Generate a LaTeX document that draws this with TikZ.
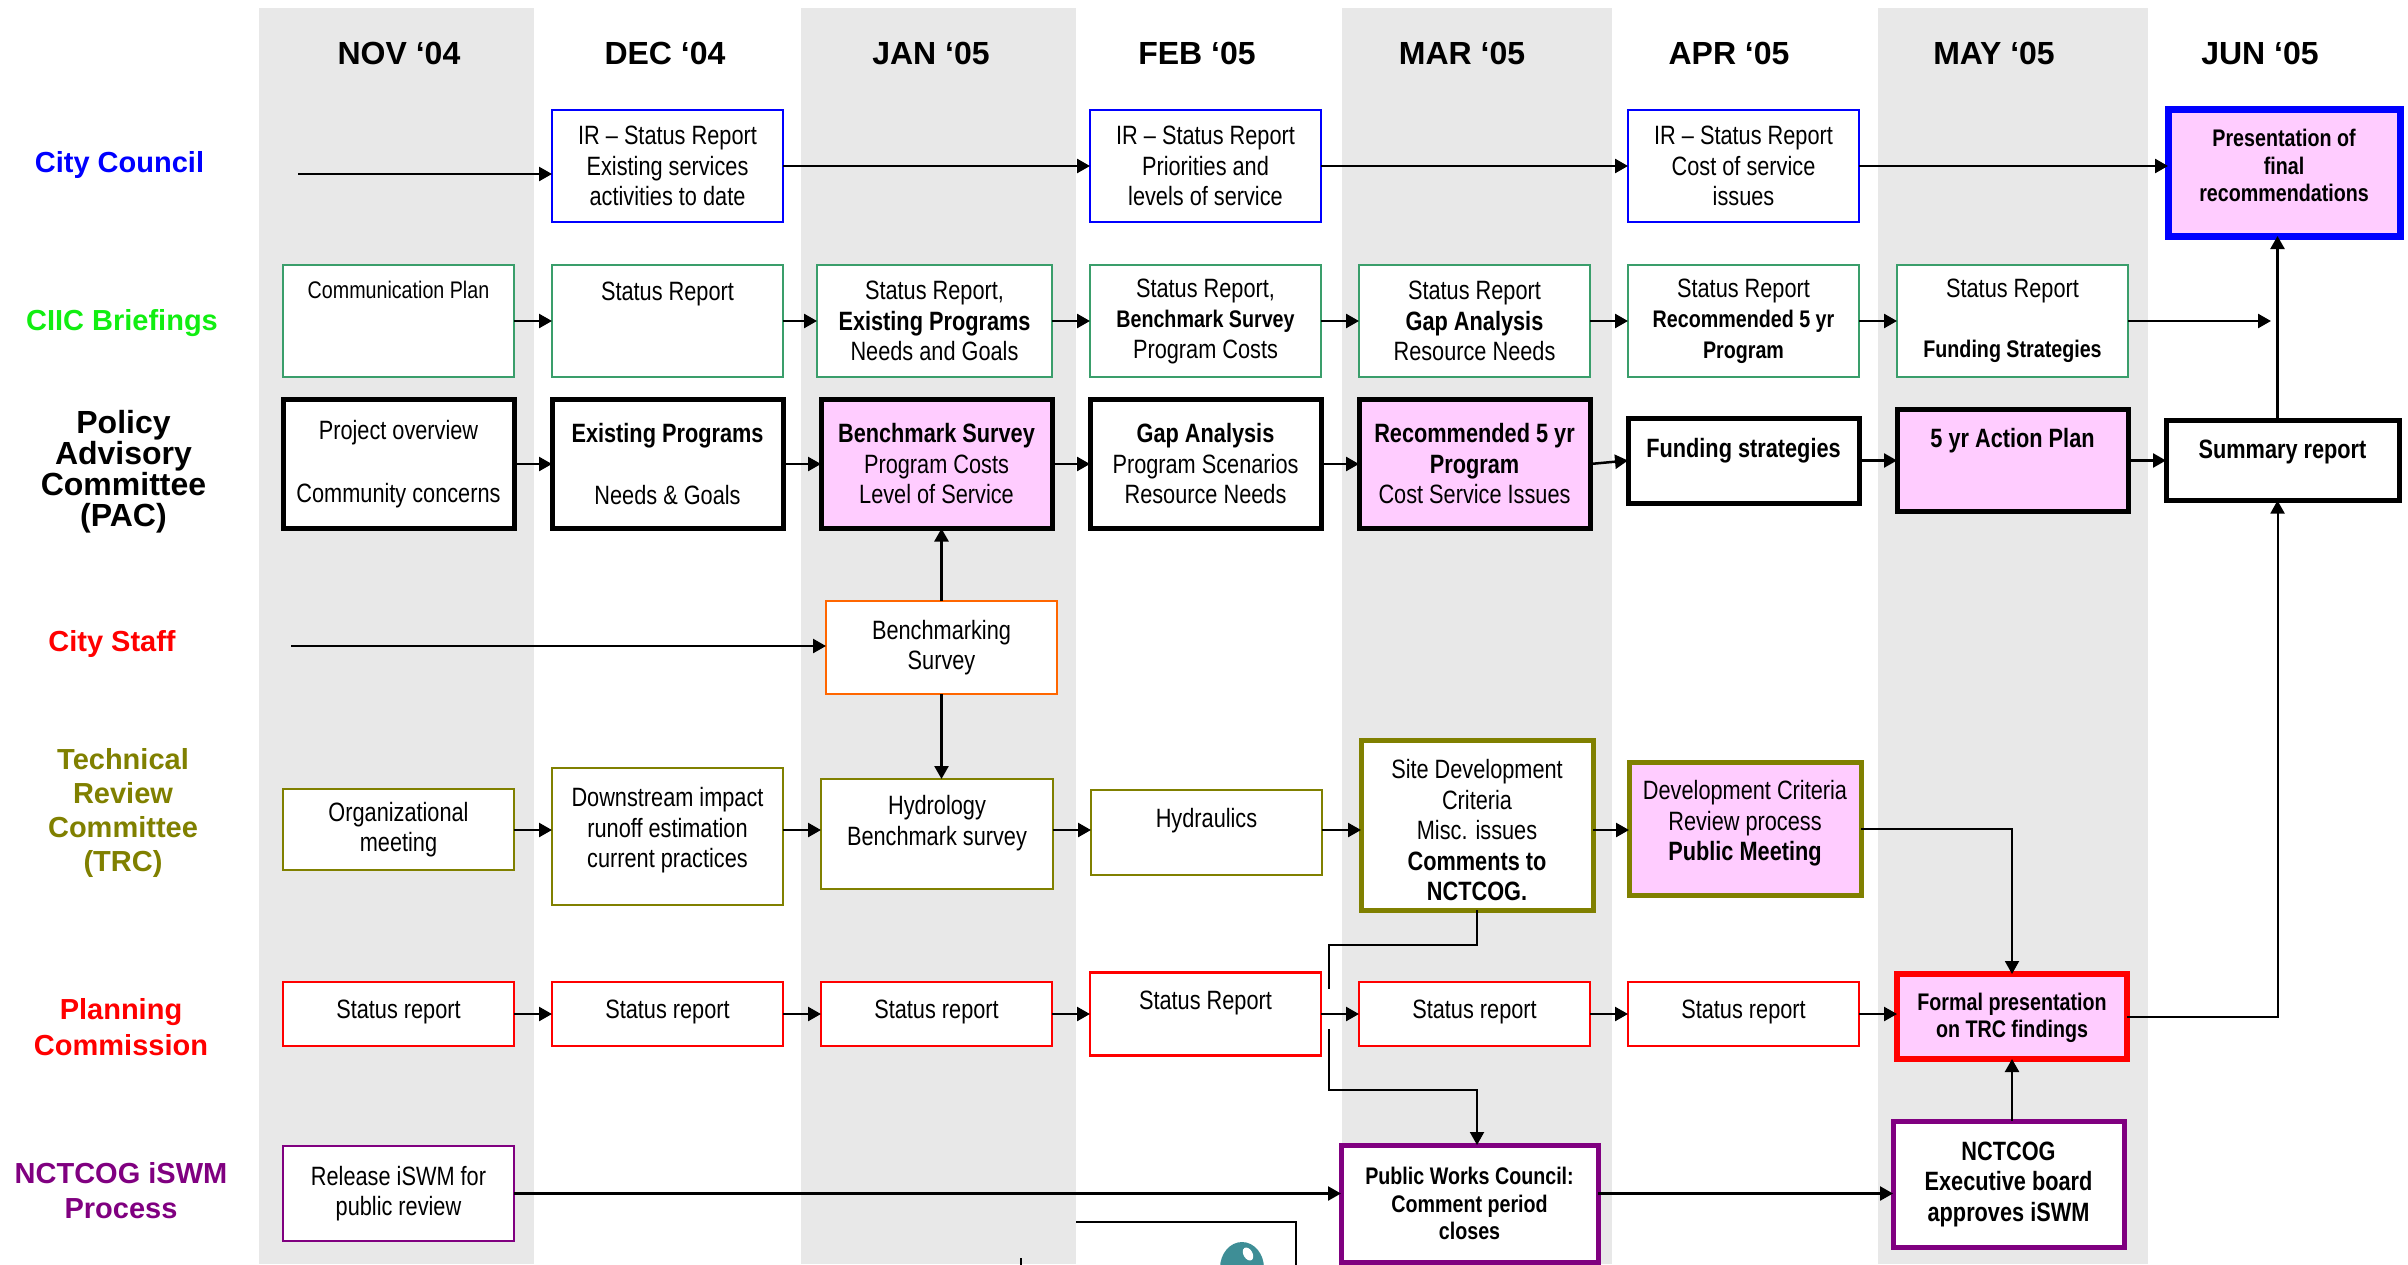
\documentclass[tikz,border=0pt]{standalone}
\usepackage{fontspec}
\setmainfont{Liberation Sans}
\newfontfamily\narrowsf[FakeStretch=0.82]{Liberation Sans}
\usepackage{xcolor}
\usepackage{tikz}
\usetikzlibrary{arrows.meta,positioning,calc}

\definecolor{ccblue}{HTML}{0000FF}
\definecolor{ciicgreen}{HTML}{3A9E6B}
\definecolor{ciiclabel}{HTML}{11EE11}
\definecolor{staffor}{HTML}{FF6600}
\definecolor{trcolive}{HTML}{808000}
\definecolor{pcred}{HTML}{FF0000}
\definecolor{iswmpurple}{HTML}{800080}
\definecolor{keypink}{HTML}{FFCCFF}
\definecolor{bandgray}{HTML}{E8E8E8}
\definecolor{blobteal}{HTML}{3E8E96}

\newcommand{\boxfont}{\narrowsf\fontsize{26.5}{30.5}\selectfont}
\newcommand{\boxsmall}{\narrowsf\fontsize{24}{27.6}\selectfont}
\newcommand{\monthfont}{\fontsize{32}{38}\selectfont\bfseries}
\newcommand{\lanefont}{\fontsize{29}{34}\selectfont\bfseries}

\begin{document}
\begin{tikzpicture}[
    x=1pt, y=-1pt,
    block/.style={draw, fill=white, minimum width=231pt, align=center, inner sep=2pt, outer sep=0pt, font=\boxfont, line width=2.5pt},
    council/.style={block, draw=ccblue, minimum height=112pt},
    ciic/.style={block, draw=ciicgreen, line width=2.8pt, minimum height=112pt},
    pac/.style={block, line width=5pt, minimum height=129pt},
    staff/.style={block, draw=staffor, minimum height=93pt},
    trc/.style={block, draw=trcolive},
    plan/.style={block, draw=pcred, text height=34.5pt, text depth=25.5pt},
    iswm/.style={block, draw=iswmpurple},
    hilite/.style={fill=keypink},
    month/.style={font=\monthfont},
    lane/.style={font=\lanefont, align=center},
    arrow/.style={-{Triangle[length=13pt,width=14pt]}, line width=2.5pt},
    link/.style={line width=2pt},
]
\useasboundingbox (0,0) rectangle (2408,1264);

% Month bands
\fill[bandgray] (259,8) rectangle (534,1264);
\fill[bandgray] (801,8) rectangle (1076,1264);
\fill[bandgray] (1342,8) rectangle (1612,1264);
\fill[bandgray] (1878,8) rectangle (2148,1264);

% Month headings
\node[month] (hnov) at (399,53) {NOV ‘04};
\node[month] (hdec) at (665,53) {DEC ‘04};
\node[month] (hjan) at (931,53) {JAN ‘05};
\node[month] (hfeb) at (1197,53) {FEB ‘05};
\node[month] (hmar) at (1462,53) {MAR ‘05};
\node[month] (hapr) at (1729,53) {APR ‘05};
\node[month] (hmay) at (1994,53) {MAY ‘05};
\node[month] (hjun) at (2260,53) {JUN ‘05};

% Lane labels
\node[lane, text=ccblue] (lcc) at (119.5,165) {City Council};
\node[lane, text=ciiclabel] (lciic) at (122,323) {CIIC Briefings};
\node[lane, font=\fontsize{32}{31}\selectfont\bfseries] (lpac) at (123.5,471.5) {Policy\\Advisory\\Committee\\(PAC)};
\node[lane, text=pcred] (lstaff) at (112,644) {City Staff};
\node[lane, text=trcolive] (ltrc) at (123,813) {Technical\\Review\\Committee\\(TRC)};
\node[lane, text=pcred, font=\fontsize{29}{36}\selectfont\bfseries] (lpc) at (121,1027) {Planning\\Commission};
\node[lane, text=iswmpurple, font=\fontsize{29}{35}\selectfont\bfseries] (liswm) at (121,1190.5) {NCTCOG iSWM\\Process};

% Row 1: City Council
\coordinate (councilin) at (298,174);
\node[council] (ccdec) at (667.5,166) {IR – Status Report\\Existing services\\activities to date};
\node[council, right=307pt of ccdec] (ccfeb) {IR – Status Report\\Priorities and\\levels of service};
\node[council, right=307pt of ccfeb] (ccapr) {IR – Status Report\\Cost of service\\issues};
\node[council, hilite, line width=7pt, right=309pt of ccapr, yshift=-6.5pt, minimum width=232pt, minimum height=0pt, font=\boxsmall\bfseries, text height=90.6pt, text depth=32.4pt] (ccjun) {Presentation of\\final\\recommendations};

% Row 2: CIIC briefings
\node[ciic, font=\boxsmall, text height=31.6pt, text depth=76.4pt] (ciicnov) at (398.5,321) {Communication Plan};
\node[ciic, right=38pt of ciicnov, text height=33.5pt, text depth=74.5pt] (ciicdec) {Status Report};
\node[ciic, right=34pt of ciicdec, minimum width=235pt] (ciicjan) {Status Report,\\\textbf{Existing Programs}\\Needs and Goals};
\node[ciic, right=38pt of ciicjan] (ciicfeb) {Status Report,\\{\boxsmall\bfseries Benchmark Survey}\\Program Costs};
\node[ciic, right=38pt of ciicfeb] (ciicmar) {Status Report\\\textbf{Gap Analysis}\\Resource Needs};
\node[ciic, right=38pt of ciicmar] (ciicapr) {Status Report\\{\boxsmall\bfseries Recommended 5 yr}\\{\boxsmall\bfseries Program}};
\node[ciic, right=38pt of ciicapr] (ciicmay) {Status Report\\[30pt]{\boxsmall\bfseries Funding Strategies}};

% Row 3: Policy Advisory Committee
\node[pac] (pacnov) at (398.5,464) {Project overview\\[32pt]Community concerns};
\node[pac, right=38pt of pacnov] (pacdec) {\textbf{Existing Programs}\\[32pt]Needs \& Goals};
\node[pac, hilite, right=38pt of pacdec] (pacjan) {\textbf{Benchmark Survey}\\Program Costs\\Level of Service};
\node[pac, right=38pt of pacjan] (pacfeb) {\textbf{Gap Analysis}\\Program Scenarios\\Resource Needs};
\node[pac, hilite, right=38pt of pacfeb] (pacmar) {\textbf{Recommended 5 yr}\\\textbf{Program}\\Cost Service Issues};
\node[pac, minimum height=0pt, font=\boxfont\bfseries, right=38pt of pacmar, yshift=3.5pt, text height=37.5pt, text depth=43.5pt] (pacapr) {Funding strategies};
\node[pac, hilite, minimum height=0pt, font=\boxfont\bfseries, right=38pt of pacapr, text height=36pt, text depth=62pt] (pacmay) {5 yr Action Plan};
\node[pac, minimum height=0pt, font=\boxfont\bfseries, right=38pt of pacmay, minimum width=233pt, text height=35.5pt, text depth=40.5pt] (pacjun) {Summary report};

% Row 4: City staff
\coordinate (staffin) at (291,646);
\node[staff] (bench) at (941.5,647.5) {Benchmarking\\Survey};

% Row 5: Technical Review Committee
\coordinate (trcrow) at (0,830);
\node[trc, minimum height=81pt] (trcnov) at (398.5,829.5) {Organizational\\meeting};
\node[trc, right=38pt of trcnov, yshift=-7pt, text height=97.5pt, text depth=35.5pt] (trcdec) {Downstream impact\\runoff estimation\\current practices};
\node[trc, right=38pt of trcdec, yshift=2.5pt, minimum width=232pt, text height=64.2pt, text depth=41.8pt] (trcjan) {Hydrology\\Benchmark survey};
\node[trc, right=38pt of trcjan, yshift=1.5pt, text height=35.5pt, text depth=45.5pt] (trcfeb) {Hydraulics};
\node[trc, line width=5pt, right=39pt of trcfeb, yshift=7.5pt, minimum width=232pt, text height=158.5pt, text depth=7.5pt] (trcmar) {Site Development\\Criteria\\Misc. issues\\\textbf{Comments to}\\\textbf{NCTCOG.}};
\node[trc, hilite, line width=5pt, right=36pt of trcmar, yshift=-3.5pt, minimum width=232pt, text height=96.5pt, text depth=32.5pt] (trcapr) {Development Criteria\\Review process\\\textbf{Public Meeting}};

% Row 6: Planning Commission
\node[plan] (pcnov) at (398.5,1014) {Status report};
\node[plan, right=38pt of pcnov] (pcdec) {Status report};
\node[plan, right=38pt of pcdec] (pcjan) {Status report};
\node[plan, right=38pt of pcjan, text height=35pt, text depth=44pt] (pcfeb) {Status Report};
\node[plan, right=38pt of pcfeb] (pcmar) {Status report};
\node[plan, right=38pt of pcmar] (pcapr) {Status report};
\node[plan, hilite, line width=6pt, right=38pt of pcapr, yshift=-2.5pt, minimum width=230pt, font=\boxsmall\bfseries, text height=61.6pt, text depth=19.4pt] (formal) {Formal presentation\\on TRC findings};

% Row 7: NCTCOG iSWM process
\node[iswm, minimum height=95pt] (relnov) at (398.5,1193.5) {Release iSWM for\\public review};
\node[iswm, line width=5pt, below=99pt of pcmar, xshift=-5pt, minimum width=257pt, minimum height=117pt, font=\boxsmall\bfseries] (pwc) {Public Works Council:\\Comment period\\closes};
\node[iswm, line width=5pt, below=62pt of formal, xshift=-3.5pt, minimum height=126pt, font=\boxfont\bfseries] (execb) {NCTCOG\\Executive board\\approves iSWM};

% City Council arrows
\draw[arrow] (councilin) -- (councilin -| ccdec.west);
\draw[arrow] (ccdec.east) -- (ccfeb.west);
\draw[arrow] (ccfeb.east) -- (ccapr.west);
\draw[arrow] (ccapr.east) -- (ccapr.east -| ccjun.west);

% CIIC arrows
\draw[arrow] (ciicnov.east) -- (ciicdec.west);
\draw[arrow] (ciicdec.east) -- (ciicjan.west);
\draw[arrow] (ciicjan.east) -- (ciicfeb.west);
\draw[arrow] (ciicfeb.east) -- (ciicmar.west);
\draw[arrow] (ciicmar.east) -- (ciicapr.west);
\draw[arrow] (ciicapr.east) -- (ciicmay.west);
\draw[arrow] (ciicmay.east) -- ([xshift=-11.5pt]pacjun.north |- ciicmay.east);

% PAC arrows
\draw[arrow] (pacnov.east) -- (pacdec.west);
\draw[arrow] (pacdec.east) -- (pacjan.west);
\draw[arrow] (pacjan.east) -- (pacfeb.west);
\draw[arrow] (pacfeb.east) -- (pacmar.west);
\draw[arrow] (pacmar.east) -- (pacapr.west);
\draw[arrow] (pacapr.east) -- (pacmay.west);
\draw[arrow] (pacmay.east) -- (pacjun.west);
\draw[arrow] ([xshift=-5pt]pacjun.north) -- ([xshift=-5pt]pacjun.north |- ccjun.south);

% City staff arrows
\draw[arrow] (staffin) -- (staffin -| bench.west);
\draw[arrow] (bench.north) -- (bench.north |- pacjan.south);
\draw[arrow] (bench.south) -- (bench.south |- trcjan.north);

% TRC arrows
\draw[arrow] (trcnov.east |- trcrow) -- (trcdec.west |- trcrow);
\draw[arrow] (trcdec.east |- trcrow) -- (trcjan.west |- trcrow);
\draw[arrow] (trcjan.east |- trcrow) -- (trcfeb.west |- trcrow);
\draw[arrow] (trcfeb.east |- trcrow) -- (trcmar.west |- trcrow);
\draw[arrow] (trcmar.east |- trcrow) -- (trcapr.west |- trcrow);
\draw[arrow, line width=2pt] (trcapr.east) -| (formal.north);

% Planning Commission arrows
\draw[arrow] (pcnov.east) -- (pcdec.west);
\draw[arrow] (pcdec.east) -- (pcjan.west);
\draw[arrow] (pcjan.east) -- (pcfeb.west);
\draw[arrow] (pcfeb.east) -- (pcmar.west);
\draw[arrow] (pcmar.east) -- (pcapr.west);
\draw[arrow] (pcapr.east) -- (pcapr.east -| formal.west);
\draw[arrow, line width=2pt] (formal.east) -| ([xshift=-5pt]pacjun.south);

% Comments to NCTCOG feed the Public Works Council
\coordinate (gapup) at ($(pcfeb.east)+(8,-25)$);
\coordinate (gapdown) at ($(pcfeb.east)+(8,15)$);
\draw[link] (trcmar.south) -- ++(0,35) -| (gapup);
\draw[arrow, line width=2pt] (gapdown) -- ++(0,61) -| (trcmar.south |- pwc.north);

% iSWM arrows
\draw[arrow] (relnov.east) -- (relnov.east -| pwc.west);
\draw[arrow] (pwc.east |- relnov.east) -- (execb.west |- relnov.east);
\draw[arrow] (formal.south |- execb.north) -- (formal.south);

% cut-off fragments at the bottom edge
\draw[link] (1076,1221.5) -| (1296,1270);
\fill[blobteal] (1242,1268) ellipse (22 and 26);
\fill[white, rotate around={30:(1248,1254)}] (1248,1254) ellipse (4.5 and 7);
\draw[line width=1.5pt] (1021,1258) -- (1021,1266);
\end{tikzpicture}
\end{document}
